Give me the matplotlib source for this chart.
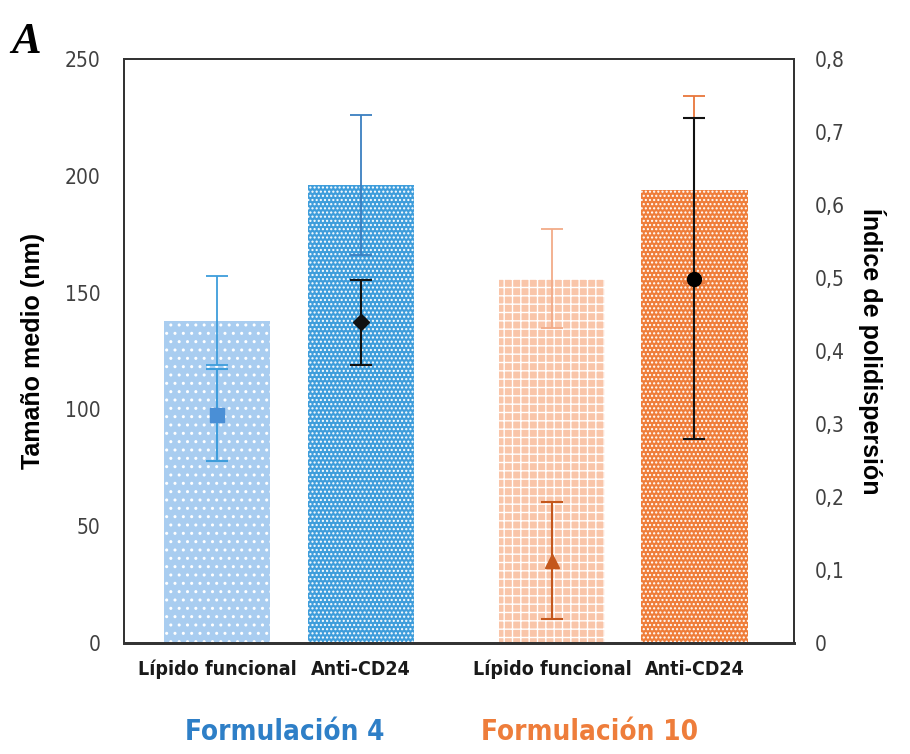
import matplotlib.pyplot as plt
import numpy as np

# data
labels = ['Lípido funcional', 'Anti-CD24', 'Lípido funcional', 'Anti-CD24']
size_nm = [138, 196, 156, 194]
size_err = [19, 30, 21, 40]
pdi = [0.312, 0.439, 0.113, 0.499]
pdi_err = [0.063, 0.058, 0.08, 0.22]

bar_colors = ['#a9cdf0', '#3e9ddb', '#f9c5a9', '#ef7d3a']
err_colors = ['#3e9ddb', '#3a7fc0', '#f2ab88', '#e8763a']
pdi_markers = ['s', 'D', '^', 'o']
pdi_colors = ['#4a8fd6', '#111111', '#c4571c', '#000000']
pdi_err_colors = ['#3e9ddb', '#111111', '#c4571c', '#111111']
hatches = ['..', '....', '++', '....']

xpos = [0, 1, 2.33, 3.32]
narrow = dict(family=['DejaVu Sans'], stretch='condensed')
arial = ['Liberation Sans', 'DejaVu Sans']

fig = plt.figure(figsize=(9.1, 7.54), dpi=100)
ax = fig.add_axes([0.136, 0.147, 0.736, 0.775])

for i in range(4):
    ax.bar(xpos[i], size_nm[i], width=0.74, color=bar_colors[i], edgecolor='none', zorder=1)
    ax.bar(xpos[i], size_nm[i], width=0.74, facecolor='none', edgecolor='white',
           hatch=hatches[i], linewidth=0, zorder=2)
    ax.errorbar(xpos[i], size_nm[i], yerr=size_err[i], fmt='none', ecolor=err_colors[i],
                elinewidth=1.3, capsize=8, capthick=1.3, zorder=3)

ax.set_ylim(0, 250)
ax.set_xlim(-0.65, 4.01)
ax.set_yticks(np.arange(0, 251, 50))
ax.set_xticks(xpos)
ax.set_xticklabels(labels, fontsize=14, fontweight='bold', color='#1a1a1a', **narrow)
ax.tick_params(axis='both', length=0, pad=12)
ax.tick_params(axis='y', labelsize=15, labelcolor='#404040', pad=17)
for t in ax.get_yticklabels():
    t.set_fontfamily(narrow['family'])
    t.set_fontstretch('condensed')
ax.set_ylabel('Tamaño medio (nm)', fontsize=18, fontweight='bold', labelpad=14,
              fontfamily=arial)
for s in ax.spines.values():
    s.set_linewidth(1.3)
    s.set_color('#333333')
ax.spines['bottom'].set_linewidth(2)

ax2 = ax.twinx()
for i in range(4):
    ax2.errorbar(xpos[i], pdi[i], yerr=pdi_err[i], fmt=pdi_markers[i], color=pdi_colors[i],
                 ecolor=pdi_err_colors[i], markersize=10 if pdi_markers[i] != 'D' else 8,
                 elinewidth=1.5, capsize=8, capthick=1.5, zorder=4)
ax2.set_ylim(0, 0.8)
ax2.set_yticks(np.arange(0, 0.81, 0.1))
ax2.set_yticklabels(['0'] + [f'0,{k}' for k in range(1, 9)])
ax2.tick_params(axis='y', length=0, labelsize=15, labelcolor='#404040', pad=15)
for t in ax2.get_yticklabels():
    t.set_fontfamily(narrow['family'])
    t.set_fontstretch('condensed')
ax2.set_ylabel('Índice de polidispersión', fontsize=18, fontweight='bold', rotation=270,
               labelpad=30, fontfamily=arial)
for s in ax2.spines.values():
    s.set_linewidth(1.3)
    s.set_color('#333333')
ax2.spines['bottom'].set_linewidth(2)

fig.text(0.313, 0.018, 'Formulación 4', fontsize=20, fontweight='bold',
         color='#2e7fc7', ha='center', **narrow)
fig.text(0.648, 0.018, 'Formulación 10', fontsize=20, fontweight='bold',
         color='#ee7d3b', ha='center', **narrow)
fig.text(0.012, 0.93, 'A', fontfamily=['Liberation Serif', 'DejaVu Serif'], fontsize=32,
         fontweight='bold', fontstyle='italic')

fig.savefig('out.png', dpi=100)
